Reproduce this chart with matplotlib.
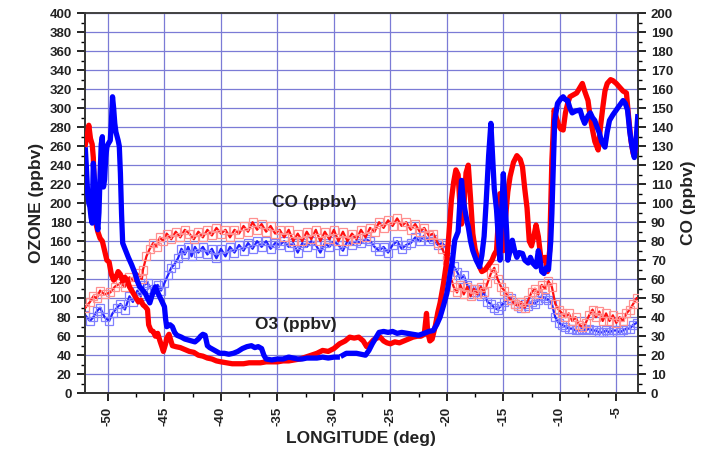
import numpy as np
import matplotlib
matplotlib.use("Agg")
import matplotlib.pyplot as plt
from matplotlib.ticker import MultipleLocator

plt.rcParams['font.family'] = ['Liberation Sans', 'DejaVu Sans']
plt.rcParams['font.weight'] = 'bold'

# ---------------- data ----------------
o3_red_lon = [-52, -51.85, -51.7, -51.55, -51.4, -51.3, -51.2, -51.1, -50.9, -50.7, -50.5, -50.3, -50.1, -49.9,
              -49.7, -49.5, -49.3, -49.1, -48.9, -48.7, -48.5, -48.3, -48.1, -47.9, -47.7, -47.5, -47.3, -47.1,
              -46.9, -46.7, -46.5, -46.4, -46.2, -46, -45.8, -45.6, -45.4, -45.2, -45.1, -44.9, -44.8, -44.6,
              -44.3, -44, -43.6, -43.2, -42.8, -42.4, -42, -41.6, -41.2, -40.8, -40.4, -40, -39.5, -39, -38.5,
              -38, -37.5, -37, -36.5, -36, -35.5, -35, -34.5, -34, -33.5, -33, -32.5, -32, -31.5, -31, -30.5,
              -30, -29.5, -29, -28.6, -28.2, -27.8, -27.4, -27.1, -26.8, -26.5, -26.2, -25.9, -25.6, -25.3,
              -25, -24.6, -24.2, -23.8, -23.4, -23, -22.6, -22.3, -22, -21.8, -21.7, -21.5, -21.3, -21, -20.8,
              -20.6, -20.3, -20, -19.8, -19.6, -19.4, -19.2, -19.0, -18.85, -18.7, -18.5, -18.3, -18.1, -17.9,
              -17.7, -17.5, -17.3, -17.1, -16.9, -16.6, -16.3, -16, -15.8, -15.6, -15.4, -15.3, -15.1, -15,
              -14.8, -14.6, -14.4, -14.1, -13.8, -13.5, -13.3, -13.1, -12.9, -12.7, -12.5, -12.3, -12.1, -11.9,
              -11.7, -11.5, -11.3, -11.1, -10.9, -10.7, -10.5, -10.3, -10.1, -9.9, -9.7, -9.5, -9.3, -9.1,
              -8.8, -8.5, -8.2, -8, -7.8, -7.5, -7.3, -7.1, -6.9, -6.6, -6.4, -6.2, -6, -5.8, -5.5, -5.3, -5,
              -4.7, -4.4, -4.1, -3.9, -3.7, -3.5, -3.3, -3.1]
o3_red = [262, 270, 282, 268, 262, 248, 215, 180, 170, 163, 160, 150, 140, 138,
          125, 119, 122, 128, 125, 118, 122, 119, 112, 108, 104, 100, 96, 98,
          93, 91, 88, 72, 66, 65, 60, 63, 55, 48, 44, 52, 58, 62,
          50, 49, 48, 46, 44, 43, 40, 39, 37, 36, 34, 33, 32, 31, 31,
          31, 32, 32, 32, 33, 33, 33, 34, 34, 35, 36, 38, 40, 42, 45, 44,
          47, 52, 55, 59, 58, 59, 55, 49, 52, 56, 58, 59, 55, 53,
          52, 54, 53, 55, 57, 59, 60, 60, 62, 84, 65, 55, 57, 72, 85,
          95, 115, 140, 170, 203, 222, 235, 230, 200, 178, 195, 232, 240, 205,
          168, 152, 143, 133, 128, 130, 135, 140, 146, 150, 190, 210, 170, 150,
          185, 212, 228, 243, 250, 246, 238, 215, 195, 160, 155, 165, 177, 165,
          145, 140, 143, 128, 150, 245, 298, 290, 282, 278, 277, 295, 305, 312,
          314, 316, 322, 326, 318, 308, 290, 277, 265, 256, 280, 300, 318, 326, 330, 329, 326,
          322, 318, 316, 290, 266, 252, 255, 259]

o3_blue_lon = [-52, -51.9, -51.8, -51.7, -51.6, -51.5, -51.4, -51.35, -51.3, -51.2, -51.1, -51, -50.9, -50.8,
               -50.7, -50.6, -50.5, -50.45, -50.4, -50.3, -50.2, -50.1, -50, -49.8, -49.7, -49.6, -49.5, -49.4,
               -49.3, -49.1, -49.0, -48.9, -48.8, -48.7, -48.5, -48.2, -47.9, -47.6, -47.4, -47.2, -46.9, -46.7,
               -46.5, -46.3, -46.1, -45.8, -45.6, -45.4, -45.2, -45, -44.9, -44.8, -44.5, -44.3, -44.1, -43.9,
               -43.5, -43.2, -42.9, -42.6, -42.3, -42.0, -41.8, -41.6, -41.4, -41.2, -41, -40.7, -40.4, -40.1,
               -39.7, -39.3, -38.9, -38.5, -38.1, -37.7, -37.3, -37, -36.7, -36.4, -36.2, -36.0, -35.5, -35,
               -34.5, -34, -33.6, -33.2, -32.8, -32.4, -32, -31.5, -31, -30.5, -30, -29.7, -29.45, -29.2, -28.9,
               -28.5, -28, -27.6, -27.2, -26.9, -26.6, -26.3, -26, -25.6, -25.2, -24.8, -24.4, -24, -23.5, -23,
               -22.5, -22, -21.6, -21.2, -20.9, -20.6, -20.3, -20, -19.7, -19.5, -19.3, -19.0, -18.85, -18.7,
               -18.55, -18.4, -18.2, -18.1, -17.9, -17.7, -17.4, -17.1, -16.9, -16.7, -16.5, -16.3, -16.1,
               -15.95, -15.8, -15.6, -15.45, -15.3, -15.15, -15, -14.85, -14.7, -14.6, -14.4, -14.2, -14, -13.8,
               -13.6, -13.3, -13.1, -12.8, -12.6, -12.4, -12.1, -11.9, -11.8, -11.6, -11.4, -11.2, -11.0, -10.8,
               -10.7, -10.55, -10.45, -10.2, -9.9, -9.7, -9.5, -9.3, -9.1, -8.9, -8.6, -8.2, -8, -7.8, -7.5,
               -7.3, -7.1, -6.9, -6.7, -6.5, -6.3, -6, -5.8, -5.6, -5.3, -5, -4.7, -4.4, -4.2, -4, -3.8, -3.6,
               -3.4, -3.25, -3.1]
o3_blue = [256, 235, 210, 200, 196, 185, 179, 215, 242, 225, 195, 182, 172, 190,
           230, 262, 270, 240, 217, 225, 248, 259, 262, 266, 285, 312, 300, 284,
           275, 266, 260, 231, 189, 158, 152, 143, 135, 126, 118, 112, 108, 105,
           100, 95, 103, 112, 106, 101, 96, 91, 78, 70, 72, 70, 64, 61,
           59, 57, 56, 55, 54, 57, 60, 62, 61, 50, 48, 46, 44, 42,
           42, 41, 42, 44, 47, 49, 50, 48, 49, 47, 40, 36, 35, 36,
           36, 38, 37, 36, 36, 37, 37, 37, 38, 37, 38, 38, np.nan, 40, 42,
           42, 42, 41, 40, 45, 52, 58, 64, 65, 64, 65, 63, 64, 63, 62,
           61, 63, 65, 66, 72, 80, 92, 105, 126, 140, 161, 170, 200, 224,
           205, 193, 180, 175, 160, 150, 140, 133, 145, 165, 205, 250, 284,
           250, 215, 193, 165, 140, 190, 231, 200, 170, 140, 150, 161, 150, 143,
           148, 147, 140, 137, 143, 137, 133, 150, 145, 128, 126, 132, 130, 160,
           189, 250, 287, 305, 310, 312, 309, 308, 300, 295, 297, 298, 290, 284, 292,
           295, 290, 287, 280, 274, 265, 259, 275, 287, 293, 298, 303, 308, 305, 298, 275, 259,
           248, 265, 291]

co_red_lon = [-52, -51.6, -51.3, -51, -50.7, -50.3, -49.8, -49.4, -48.9, -48.5, -48.1, -47.7, -47.4, -47.0,
              -46.9, -46.6, -46.3, -46, -45.7, -45.4, -45.1, -44.8, -44.4, -44, -43.6, -43.2, -42.8, -42.4,
              -42, -41.6, -41.2, -40.8, -40.4, -40, -39.6, -39.2, -38.8, -38.4, -38, -37.6, -37.2, -36.8,
              -36.4, -36, -35.6, -35.2, -34.8, -34.4, -34, -33.6, -33.2, -32.8, -32.4, -32, -31.6, -31.2,
              -30.8, -30.4, -30, -29.6, -29.2, -28.8, -28.4, -28, -27.6, -27.2, -26.8, -26.4, -26, -25.6,
              -25.2, -24.8, -24.4, -24, -23.6, -23.2, -22.8, -22.4, -22, -21.6, -21.2, -20.8, -20.4, -20,
              -19.7, -19.4, -19.1, -18.8, -18.5, -18.2, -17.9, -17.6, -17.3, -17, -16.7, -16.4, -16.1, -15.8,
              -15.5, -15.2, -14.9, -14.6, -14.3, -14, -13.7, -13.4, -13.1, -12.8, -12.5, -12.2, -11.9, -11.6,
              -11.3, -11, -10.7, -10.4, -10.1, -9.8, -9.5, -9.2, -8.9, -8.6, -8.3, -8, -7.7, -7.4, -7.1, -6.8,
              -6.5, -6.2, -5.9, -5.6, -5.3, -5.0, -4.7, -4.4, -4.1, -3.8, -3.5, -3.2]
co_red = [45, 48, 51, 50, 54, 52, 53, 56, 58, 56, 61, 59, 63, 60,
          65, 72, 76, 79, 77, 82, 80, 84, 81, 85, 82, 86, 84, 81,
          85, 82, 86, 83, 87, 84, 86, 82, 86, 84, 88, 85, 90, 86,
          89, 85, 88, 84, 86, 82, 86, 80, 84, 80, 85, 81, 86, 80,
          85, 81, 86, 80, 85, 80, 84, 81, 86, 82, 87, 85, 90, 87,
          91, 88, 92, 88, 90, 86, 89, 85, 87, 83, 84, 79, 76, 70,
          62, 56, 53, 57, 52, 56, 51, 55, 52, 56, 53, 58, 63, 66,
          60, 56, 54, 51, 49, 47, 46, 48, 45, 49, 53, 55, 52, 57,
          55, 59, 56, 47, 44, 42, 40, 42, 38, 40, 36, 35, 37, 41, 44, 40,
          43, 38, 42, 38, 41, 37, 40, 38, 42, 44, 47, 50]

co_blue_lon = [-52, -51.6, -51.3, -51, -50.7, -50.3, -49.9, -49.6, -49.2, -48.9, -48.5, -48.1, -47.8, -47.4,
               -47.1, -46.8, -46.5, -46.2, -45.9, -45.6, -45.3, -45, -44.7, -44.4, -44.1, -43.8, -43.5, -43.2,
               -42.9, -42.6, -42.3, -42, -41.6, -41.2, -40.8, -40.4, -40, -39.6, -39.2, -38.8, -38.4, -38,
               -37.6, -37.2, -36.8, -36.4, -36, -35.6, -35.2, -34.8, -34.4, -34, -33.6, -33.2, -32.8, -32.4,
               -32, -31.6, -31.2, -30.8, -30.4, -30, -29.6, -29.2, -28.8, -28.4, -28, -27.6, -27.2, -26.8,
               -26.4, -26, -25.6, -25.2, -24.8, -24.4, -24, -23.6, -23.2, -22.8, -22.4, -22, -21.6, -21.2,
               -20.8, -20.4, -20, -19.7, -19.4, -19.1, -18.8, -18.5, -18.2, -17.9, -17.6, -17.3, -17, -16.7,
               -16.4, -16.1, -15.8, -15.5, -15.2, -14.9, -14.6, -14.3, -14, -13.7, -13.4, -13.1, -12.8, -12.5,
               -12.2, -11.9, -11.6, -11.3, -11, -10.7, -10.4, -10.1, -9.8, -9.5, -9.2, -8.9, -8.6, -8.3, -8,
               -7.7, -7.4, -7.1, -6.8, -6.5, -6.2, -5.9, -5.6, -5.3, -5, -4.7, -4.4, -4.1, -3.8, -3.5, -3.2]
co_blue = [41, 38, 40, 43, 45, 40, 38, 42, 45, 47, 44, 51, 48, 54,
           51, 57, 58, 55, 53, 57, 54, 58, 62, 66, 68, 71, 76, 73,
           77, 72, 77, 74, 77, 73, 76, 71, 76, 72, 77, 74, 78, 75,
           79, 76, 80, 77, 80, 76, 79, 78, 80, 77, 79, 74, 79, 77,
           80, 78, 74, 79, 77, 80, 78, 75, 80, 78, 80, 79, 81, 80,
           77, 75, 77, 74, 78, 80, 76, 78, 79, 82, 80, 83, 80, 81,
           78, 79, 76, 70, 67, 64, 60, 62, 57, 55, 53, 55, 51, 53,
           48, 47, 45, 44, 46, 48, 49, 50, 47, 46, 45, 47, 46, 48,
           47, 49, 51, 50, 49, 47, 40, 37, 36, 35, 34, 34, 33, 33, 34,
           33, 34, 33, 33, 32, 32, 33, 32, 33, 33, 32, 33, 34, 34, 36, 37]

x_ticks = [-50, -45, -40, -35, -30, -25, -20, -15, -10, -5]

# ---------------- figure ----------------
fig = plt.figure(figsize=(7.07, 4.53), dpi=100)
ax = fig.add_axes([0.120, 0.132, 0.782, 0.839])
ax2 = ax.twinx()

grid_c = '#7b7bd6'
ax.set_xlim(-52.05, -3.1)
ax.set_ylim(0, 400)
ax2.set_ylim(0, 200)

ax.xaxis.set_major_locator(MultipleLocator(5))
ax.xaxis.set_minor_locator(MultipleLocator(2.5))
ax.yaxis.set_major_locator(MultipleLocator(20))
ax.yaxis.set_minor_locator(MultipleLocator(10))
ax2.yaxis.set_major_locator(MultipleLocator(10))
ax2.yaxis.set_minor_locator(MultipleLocator(5))
ax.set_xticks(x_ticks)
ax.set_xticklabels([str(v) for v in x_ticks], rotation=90, fontsize=9.5, fontweight='bold')

ax.grid(True, which='major', color=grid_c, lw=0.9)
ax.set_axisbelow(True)

for a in (ax, ax2):
    a.tick_params(which='major', direction='out', length=6, width=1.2, labelsize=9.5,
                  labelcolor='#222222')
    a.tick_params(which='minor', direction='out', length=3, width=1.0)
    for s in a.spines.values():
        s.set_color('#333333')
        s.set_linewidth(1.2)
ax.spines['top'].set_color('#999999')
for lab in ax.get_yticklabels() + ax2.get_yticklabels():
    lab.set_fontweight('bold')

# CO on right axis
ax2.plot(co_blue_lon, co_blue, color='#2020ff', lw=1.6, marker='s', ms=5.5, mfc='none',
         mec='#8080ff', mew=0.9, zorder=2)
ax2.plot(co_red_lon, co_red, color='#ff1010', lw=1.6, marker='s', ms=5.5, mfc='none',
         mec='#ff9090', mew=0.9, zorder=3)

# O3 on left axis (drawn on top through ax2)
def to_right(v):
    return np.array(v, dtype=float) / 2.0

ax2.plot(o3_red_lon, to_right(o3_red), color='#ff0000', lw=3.8, solid_joinstyle='round', zorder=4)
ax2.plot(o3_blue_lon, to_right(o3_blue), color='#0000ff', lw=3.8, solid_joinstyle='round', zorder=5)

ax.set_xlabel('LONGITUDE (deg)', fontsize=12.5, fontweight='bold', labelpad=4, color='#222222')
ax.set_ylabel('OZONE (ppbv)', fontsize=12.5, fontweight='bold', labelpad=4, color='#222222')
ax2.set_ylabel('CO (ppbv)', fontsize=12.5, fontweight='bold', labelpad=6, color='#222222')

ax.text(-31.7, 201, 'CO (ppbv)', fontsize=12.5, fontweight='bold', ha='center', va='center',
        color='#222222', zorder=6)
ax.text(-33.4, 72, 'O3 (ppbv)', fontsize=12.5, fontweight='bold', ha='center', va='center',
        color='#222222', zorder=6)

fig.savefig('out.png', dpi=100)
